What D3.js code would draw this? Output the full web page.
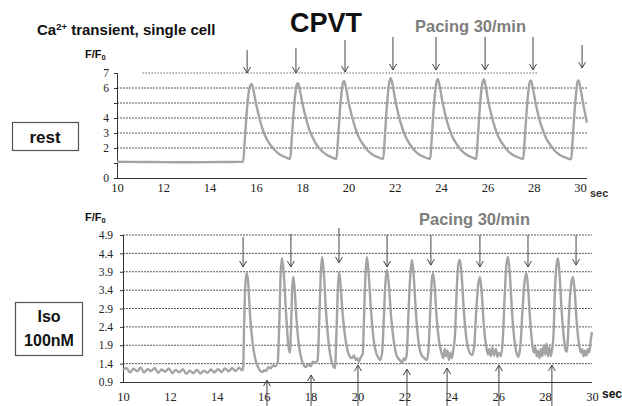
<!DOCTYPE html>
<html>
<head>
<meta charset="utf-8">
<script src="https://cdn.jsdelivr.net/npm/d3@7"></script>
<style>
  body { margin: 0; background: #fff; }
  svg { display: block; }
</style>
</head>
<body>
<div class="viz"></div>
<script>
// Ca2+ transient of a single CPVT cell, paced at 30/min: at rest (top) and with Iso 100nM (bottom)

var secTicks = [10, 12, 14, 16, 18, 20, 22, 24, 26, 28, 30];

// top panel : rest
var restYTicks = [0, 1, 2, 3, 4, 5, 6, 7];
var restYLabels = [0, 2, 3, 4, 6, 7];
var restGrid = [2, 3, 4, 5, 6];
var restTrace = [
    [10, 1.08], [11, 1.07], [12, 1.06], [13, 1.05], [14, 1.06], [15, 1.07], [15.45, 1.08],
    [15.51, 2.3], [15.59, 4.1], [15.67, 5.5], [15.75, 6.15], [15.82, 6.27], [15.9, 5.8], [16.0, 5.0],
    [16.15, 4.0], [16.3, 3.2], [16.45, 2.65], [16.65, 2.15], [16.85, 1.8], [17.05, 1.55], [17.25, 1.4], [17.48, 1.27],
    [17.54, 2.4], [17.62, 4.2], [17.7, 5.6], [17.76, 6.2], [17.82, 6.33], [17.9, 5.85], [18.0, 5.05],
    [18.15, 4.05], [18.3, 3.25], [18.45, 2.7], [18.65, 2.15], [18.85, 1.8], [19.05, 1.55], [19.25, 1.4], [19.48, 1.27],
    [19.54, 2.4], [19.62, 4.3], [19.7, 5.7], [19.76, 6.35], [19.81, 6.47], [19.9, 5.95], [20.0, 5.1],
    [20.15, 4.1], [20.3, 3.3], [20.45, 2.7], [20.65, 2.2], [20.85, 1.8], [21.05, 1.55], [21.25, 1.4], [21.5, 1.27],
    [21.56, 2.5], [21.64, 4.4], [21.72, 5.9], [21.78, 6.5], [21.83, 6.65], [21.92, 6.1], [22.02, 5.2],
    [22.17, 4.15], [22.32, 3.35], [22.47, 2.75], [22.67, 2.2], [22.87, 1.8], [23.07, 1.55], [23.27, 1.4], [23.53, 1.27],
    [23.59, 2.5], [23.67, 4.4], [23.75, 5.85], [23.81, 6.45], [23.86, 6.6], [23.95, 6.05], [24.05, 5.15],
    [24.2, 4.1], [24.35, 3.3], [24.5, 2.72], [24.7, 2.2], [24.9, 1.8], [25.1, 1.55], [25.3, 1.4], [25.52, 1.27],
    [25.58, 2.5], [25.66, 4.4], [25.74, 5.85], [25.8, 6.45], [25.85, 6.58], [25.94, 6.0], [26.04, 5.1],
    [26.19, 4.1], [26.34, 3.3], [26.49, 2.7], [26.69, 2.2], [26.89, 1.8], [27.09, 1.55], [27.29, 1.4], [27.55, 1.27],
    [27.61, 2.5], [27.69, 4.35], [27.77, 5.8], [27.83, 6.4], [27.88, 6.5], [27.97, 5.95], [28.07, 5.1],
    [28.22, 4.05], [28.37, 3.3], [28.52, 2.7], [28.72, 2.2], [28.92, 1.8], [29.12, 1.55], [29.32, 1.4], [29.62, 1.25],
    [29.68, 2.5], [29.76, 4.35], [29.84, 5.8], [29.89, 6.4], [29.94, 6.5], [30.03, 5.9], [30.13, 5.0], [30.3, 3.7]
];
// pacing arrows (time, top, tip) in F/F0 units
var restPaceT = [15.62, 17.73, 19.85, 21.92, 23.78, 25.9, 27.97, 30.09];
var restPaceTop = [8.53, 8.67, 9.2, 9.4, 9.4, 9.4, 9.4, 8.87];
var restPaceTip = [7.0, 7.0, 7.07, 7.2, 7.2, 7.2, 7.2, 7.33];

// bottom panel : Iso 100nM
var isoYTicks = [0.9, 1.4, 1.9, 2.4, 2.9, 3.4, 3.9, 4.4, 4.9];
var isoTrace = [
    [10.0, 1.22], [10.15, 1.28], [10.3, 1.16], [10.45, 1.26], [10.6, 1.19], [10.75, 1.29], [10.9, 1.16],
    [11.05, 1.25], [11.2, 1.2], [11.35, 1.28], [11.5, 1.15], [11.65, 1.24], [11.8, 1.18], [11.95, 1.27],
    [12.1, 1.14], [12.25, 1.23], [12.4, 1.16], [12.55, 1.25], [12.7, 1.12], [12.85, 1.21], [13.0, 1.14],
    [13.15, 1.23], [13.3, 1.13], [13.45, 1.21], [13.6, 1.15], [13.75, 1.24], [13.9, 1.16], [14.05, 1.25],
    [14.2, 1.17], [14.35, 1.27], [14.5, 1.19], [14.65, 1.28], [14.8, 1.2], [14.95, 1.29], [15.08, 1.22],
    [15.12, 1.25], [15.17, 2.6], [15.22, 3.6], [15.28, 3.87], [15.34, 3.6], [15.42, 2.7], [15.52, 2.0],
    [15.65, 1.5], [15.8, 1.25], [15.93, 1.17], [16.02, 1.22], [16.1, 1.2], [16.2, 1.3], [16.3, 1.27],
    [16.4, 1.35], [16.5, 1.33], [16.6, 1.45], [16.66, 2.4], [16.72, 3.8], [16.78, 4.27], [16.85, 3.9],
    [16.95, 2.8], [17.05, 1.9], [17.12, 1.7], [17.18, 2.7], [17.22, 3.5], [17.26, 3.76], [17.31, 3.5],
    [17.4, 2.6], [17.5, 1.9], [17.62, 1.5], [17.72, 1.35], [17.8, 1.31], [17.9, 1.38], [18.0, 1.33],
    [18.1, 1.45], [18.2, 1.42], [18.3, 1.5], [18.37, 2.6], [18.43, 3.8], [18.49, 4.3], [18.56, 3.9],
    [18.66, 2.8], [18.78, 1.9], [18.9, 1.45], [19.04, 1.28], [19.1, 2.2], [19.16, 3.4], [19.21, 3.89],
    [19.27, 3.6], [19.36, 2.8], [19.48, 2.1], [19.6, 1.7], [19.75, 1.55], [19.85, 1.62], [19.92, 1.5],
    [19.98, 1.55], [20.06, 1.45], [20.14, 1.58], [20.22, 1.65], [20.28, 2.7], [20.34, 3.8], [20.4, 4.3],
    [20.47, 3.9], [20.57, 2.9], [20.7, 2.0], [20.82, 1.65], [20.9, 1.55], [20.96, 1.5], [21.05, 1.7],
    [21.12, 2.6], [21.19, 3.6], [21.26, 3.95], [21.33, 3.6], [21.43, 2.7], [21.55, 2.0], [21.68, 1.6],
    [21.8, 1.5], [21.9, 1.42], [21.98, 1.55], [22.04, 1.5], [22.1, 1.65], [22.17, 2.7], [22.25, 3.8],
    [22.32, 4.22], [22.39, 3.85], [22.49, 2.8], [22.6, 2.0], [22.72, 1.65], [22.85, 1.55], [22.96, 1.5],
    [23.03, 1.8], [23.1, 2.8], [23.16, 3.6], [23.22, 3.87], [23.29, 3.5], [23.38, 2.6], [23.48, 2.0],
    [23.58, 1.7], [23.66, 1.55], [23.72, 1.8], [23.78, 1.6], [23.84, 1.75], [23.9, 1.5], [23.96, 1.7],
    [24.02, 1.55], [24.08, 1.75], [24.16, 2.2], [24.23, 3.4], [24.3, 4.1], [24.37, 4.22], [24.44, 3.8],
    [24.54, 2.8], [24.66, 2.0], [24.78, 1.7], [24.88, 1.63], [24.98, 1.9], [25.06, 2.8], [25.14, 3.5],
    [25.22, 3.76], [25.29, 3.4], [25.38, 2.5], [25.48, 1.9], [25.56, 1.65], [25.62, 1.8], [25.68, 1.6],
    [25.75, 1.85], [25.82, 1.62], [25.9, 1.8], [25.97, 1.58], [26.04, 1.7], [26.12, 1.6], [26.2, 2.1],
    [26.28, 3.3], [26.35, 4.1], [26.42, 4.3], [26.49, 3.9], [26.59, 2.8], [26.7, 2.0], [26.8, 1.65],
    [26.86, 1.58], [26.95, 1.9], [27.03, 2.8], [27.12, 3.6], [27.2, 3.87], [27.27, 3.5], [27.36, 2.6],
    [27.45, 1.95], [27.52, 1.7], [27.58, 1.85], [27.64, 1.6], [27.7, 1.75], [27.76, 1.55], [27.82, 1.8],
    [27.88, 1.6], [27.94, 1.9], [28.0, 1.65], [28.06, 1.95], [28.12, 1.6], [28.18, 1.85], [28.24, 1.6],
    [28.3, 1.8], [28.36, 2.2], [28.42, 3.4], [28.49, 4.1], [28.55, 4.27], [28.62, 3.8], [28.7, 2.9],
    [28.8, 2.1], [28.88, 1.75], [28.93, 1.72], [28.98, 2.2], [29.05, 3.1], [29.12, 3.6], [29.19, 3.76],
    [29.26, 3.4], [29.34, 2.6], [29.43, 2.0], [29.52, 1.7], [29.58, 1.8], [29.64, 1.6], [29.7, 1.75],
    [29.76, 1.62], [29.82, 1.8], [29.88, 1.7], [29.94, 2.0], [30.0, 2.26]
];
// pacing arrows (down) and spontaneous-release arrows (up)
var isoPaceT = [15.12, 17.16, 19.21, 21.26, 23.13, 25.22, 27.27, 29.32];
var isoPaceTop = [4.85, 4.93, 5.09, 4.9, 4.9, 4.9, 4.9, 4.9];
var isoPaceTip = [4.03, 4.03, 4.14, 4.03, 4.08, 4.03, 4.03, 4.08];
var isoDadT = [16.14, 18.02, 20.02, 22.11, 23.82, 26.03, 28.29];
var isoDadTip = [0.95, 1.09, 1.36, 1.25, 1.28, 1.36, 1.36];
var isoDadTail = 0.25;

var width = 622, height = 406;
var sans = "'Liberation Sans', Arial, sans-serif";
var serif = "'Liberation Serif', 'Times New Roman', serif";
var gridColor = "#5a5a5a";
var traceColor = "#a4a4a4";

var svg = d3.select('.viz')
    .append('svg')
    .attr('width', width)
    .attr('height', height);

// scales
var x_rest = d3.scaleLinear().domain([10, 30]).range([117, 580]);
var y_rest = d3.scaleLinear().domain([0, 7]).range([178, 73]);
var x_iso = d3.scaleLinear().domain([10, 30]).range([123, 592]);
var y_iso = d3.scaleLinear().domain([0.9, 4.9]).range([382, 235]);

function drawPanel(g, xs, ys, gridVals, xEnd, opts) {
    // grid
    g.selectAll('line.grid')
        .data(gridVals)
        .enter()
        .append('line')
        .attr('class', 'grid')
        .attr('x1', xs(10)).attr('x2', xs(xEnd))
        .attr('y1', d => ys(d)).attr('y2', d => ys(d))
        .attr('stroke', gridColor)
        .attr('stroke-width', 1)
        .attr('stroke-dasharray', '2,1');

    // bottom axis line + labels
    g.append('g')
        .attr('transform', `translate(0, ${ys.range()[0]})`)
        .call(d3.axisBottom(xs).tickValues(secTicks).tickSize(0).tickPadding(opts.xPad))
        .call(a => a.select('.domain').attr('d', `M${xs(10)},0.5H${xs(xEnd)}`).attr('stroke', '#333'))
        .selectAll('text')
        .style('font-family', serif)
        .style('font-size', '12.5px')
        .attr('fill', '#222');

    // left axis
    g.append('g')
        .attr('transform', `translate(${xs(10)}, 0)`)
        .call(d3.axisLeft(ys).tickValues(opts.yTicks).tickSize(3).tickPadding(opts.yPad).tickFormat(opts.yFmt))
        .call(a => a.select('.domain').attr('stroke', '#333'))
        .call(a => a.selectAll('.tick line').attr('stroke', '#333'))
        .selectAll('text')
        .style('font-family', serif)
        .style('font-size', '11.5px')
        .attr('fill', '#222');
}

function arrow(g, x, yTop, yTip, dir) {
    // dir 1 : pointing down, -1 : pointing up
    g.append('line')
        .attr('x1', x).attr('x2', x)
        .attr('y1', yTop).attr('y2', yTip)
        .attr('stroke', '#444').attr('stroke-width', 1);
    g.append('path')
        .attr('d', `M${x - 3.5},${yTip - 6 * dir}L${x},${yTip}L${x + 3.5},${yTip - 6 * dir}`)
        .attr('fill', 'none').attr('stroke', '#444').attr('stroke-width', 1);
}

var line_rest = d3.line().x(d => x_rest(d[0])).y(d => y_rest(d[1])).curve(d3.curveMonotoneX);
var line_iso = d3.line().x(d => x_iso(d[0])).y(d => y_iso(d[1])).curve(d3.curveMonotoneX);

// ---- top panel
var restPanel = svg.append('g');
drawPanel(restPanel, x_rest, y_rest, restGrid, d3.max(restTrace, d => d[0]), {
    xPad: 5, yPad: 5, yTicks: restYTicks,
    yFmt: d => restYLabels.includes(d) ? d : ''
});
// dotted top line at 7
restPanel.append('line')
    .attr('x1', x_rest(11.1)).attr('x2', x_rest(28.2))
    .attr('y1', y_rest(7)).attr('y2', y_rest(7))
    .attr('stroke', '#666').attr('stroke-dasharray', '1.5,1.5');

restPanel.append('path')
    .datum(restTrace)
    .attr('d', line_rest)
    .attr('fill', 'none')
    .attr('stroke', traceColor)
    .attr('stroke-width', 2.4)
    .attr('stroke-linejoin', 'round');

restPaceT.forEach((t, i) => arrow(restPanel, x_rest(t), y_rest(restPaceTop[i]), y_rest(restPaceTip[i]), 1));

// ---- bottom panel
var isoPanel = svg.append('g');
drawPanel(isoPanel, x_iso, y_iso, isoYTicks.slice(1), 30, {
    xPad: 10, yPad: 7, yTicks: isoYTicks,
    yFmt: d3.format('.1f')
});

isoPanel.append('path')
    .datum(isoTrace)
    .attr('d', line_iso)
    .attr('fill', 'none')
    .attr('stroke', traceColor)
    .attr('stroke-width', 2.4)
    .attr('stroke-linejoin', 'round');

isoPaceT.forEach((t, i) => arrow(isoPanel, x_iso(t), y_iso(isoPaceTop[i]), y_iso(isoPaceTip[i]), 1));
isoDadT.forEach((t, i) => arrow(isoPanel, x_iso(t), y_iso(isoDadTail), y_iso(isoDadTip[i]), -1));

// ---- titles and labels
var t1 = svg.append('text')
    .attr('x', 37).attr('y', 35)
    .attr('font-family', sans).attr('font-weight', 'bold').attr('font-size', '15px')
    .attr('fill', '#111');
t1.append('tspan').text('Ca');
t1.append('tspan').attr('font-size', '9.5px').attr('dy', -5.5).text('2+');
t1.append('tspan').attr('dy', 5.5).text(' transient, single cell');

svg.append('text')
    .attr('x', 290).attr('y', 32)
    .attr('font-family', sans).attr('font-weight', 'bold').attr('font-size', '27px')
    .attr('fill', '#111')
    .text('CPVT');

[[415, 32], [419, 225]].forEach(p => {
    svg.append('text')
        .attr('x', p[0]).attr('y', p[1])
        .attr('font-family', sans).attr('font-weight', 'bold').attr('font-size', '16.5px')
        .attr('fill', '#7d7d7d')
        .text('Pacing 30/min');
});

[[85, 58], [85, 221]].forEach(p => {
    var f = svg.append('text')
        .attr('x', p[0]).attr('y', p[1])
        .attr('font-family', sans).attr('font-weight', 'bold').attr('font-size', '11px')
        .attr('fill', '#111');
    f.append('tspan').text('F/F');
    f.append('tspan').attr('font-size', '7.5px').attr('dy', 2).text('0');
});

svg.append('text')
    .attr('x', 590).attr('y', 197)
    .attr('font-family', sans).attr('font-weight', 'bold').attr('font-size', '11px')
    .attr('fill', '#333').text('sec');
svg.append('text')
    .attr('x', 602).attr('y', 398)
    .attr('font-family', sans).attr('font-weight', 'bold').attr('font-size', '12px')
    .attr('fill', '#111').text('sec');

// condition boxes
svg.append('rect')
    .attr('x', 12.5).attr('y', 122.5).attr('width', 66).attr('height', 28)
    .attr('fill', 'none').attr('stroke', '#555').attr('stroke-width', 1.2);
svg.append('text')
    .attr('x', 45).attr('y', 143)
    .attr('text-anchor', 'middle')
    .attr('font-family', sans).attr('font-weight', 'bold').attr('font-size', '17px')
    .attr('fill', '#111').text('rest');

svg.append('rect')
    .attr('x', 15.5).attr('y', 302.5).attr('width', 67).attr('height', 53)
    .attr('fill', 'none').attr('stroke', '#555').attr('stroke-width', 1.2);
svg.append('text')
    .attr('x', 49).attr('y', 322)
    .attr('text-anchor', 'middle')
    .attr('font-family', sans).attr('font-weight', 'bold').attr('font-size', '16px')
    .attr('fill', '#111').text('Iso');
svg.append('text')
    .attr('x', 49).attr('y', 346)
    .attr('text-anchor', 'middle')
    .attr('font-family', sans).attr('font-weight', 'bold').attr('font-size', '16px')
    .attr('fill', '#111').text('100nM');
</script>
</body>
</html>
